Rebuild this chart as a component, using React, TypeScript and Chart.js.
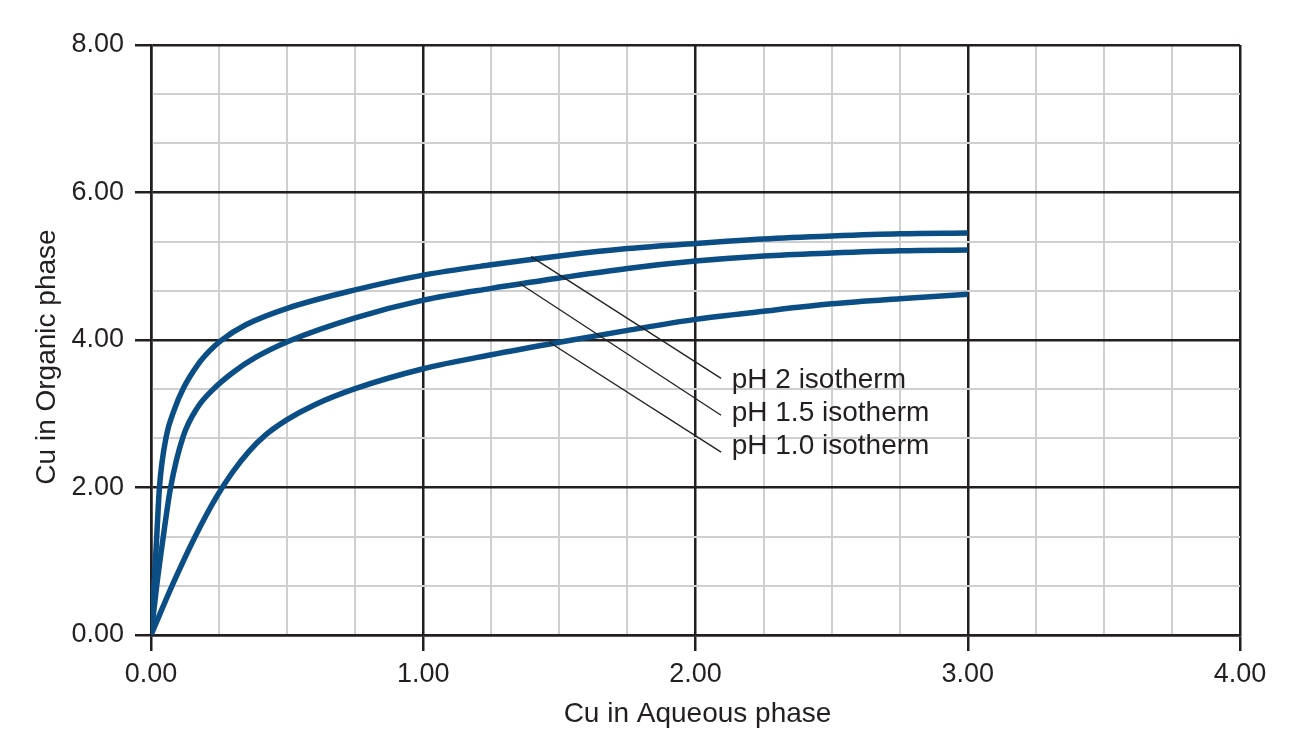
import { useEffect, useRef } from 'react';
import { Chart, registerables } from 'chart.js';

Chart.register(...registerables);

// ---- Data ----
const xMajorTicks = [0, 1, 2, 3, 4];
const yMajorTicks = [0, 2, 4, 6, 8];
const xMinorPerMajor = 4; // 0.25 steps
const yMinorPerMajor = 3; // 2/3 steps

const seriesNames = ['pH 2 isotherm', 'pH 1.5 isotherm', 'pH 1.0 isotherm'];

const ph2X = [0, 0.011, 0.021, 0.031, 0.056, 0.085, 0.118, 0.173, 0.216, 0.258, 0.35, 0.5, 0.75, 1.0, 1.25, 1.5, 1.75, 2.0, 2.25, 2.5, 2.75, 3.0];
const ph2Y = [0, 0.67, 1.33, 2.0, 2.69, 3.05, 3.34, 3.67, 3.855, 3.995, 4.21, 4.43, 4.68, 4.88, 5.02, 5.14, 5.24, 5.31, 5.37, 5.41, 5.44, 5.45];

const ph15X = [0, 0.021, 0.045, 0.072, 0.118, 0.17, 0.228, 0.301, 0.387, 0.51, 0.75, 1.0, 1.25, 1.5, 1.75, 2.0, 2.25, 2.5, 2.75, 3.0];
const ph15Y = [0, 0.67, 1.33, 2.0, 2.69, 3.08, 3.33, 3.56, 3.77, 3.99, 4.3, 4.54, 4.7, 4.84, 4.97, 5.07, 5.14, 5.18, 5.21, 5.22];

const ph10X = [0, 0.08, 0.16, 0.24, 0.3, 0.36, 0.42, 0.5, 0.6, 0.75, 1.0, 1.25, 1.5, 1.75, 2.0, 2.25, 2.5, 2.75, 3.0];
const ph10Y = [0, 0.69, 1.32, 1.87, 2.21, 2.49, 2.71, 2.92, 3.12, 3.34, 3.61, 3.8, 3.97, 4.13, 4.28, 4.39, 4.49, 4.56, 4.62];

// Leader lines: start on curve -> end near label (data coordinates)
const leaderStartX = [1.396, 1.353, 1.463];
const leaderStartY = [5.13, 4.77, 3.97];
const leaderEndX = [2.094, 2.094, 2.094];
const leaderEndY = [3.48, 2.98, 2.48];
const labelX = 2.133;
const labelY = [3.46, 3.01, 2.56];

const xTitle = 'Cu in Aqueous phase';
const yTitle = 'Cu in Organic phase';

const FONT = '"Liberation Sans", Arial, Helvetica, sans-serif';
const DARK = '#231f20';
const LIGHT = '#cfcfcf';
const CURVE = '#0b4e86';

function zip(xs: number[], ys: number[]) {
  return xs.map((x, i) => ({ x, y: ys[i] }));
}

function buildTicks(majors: number[], per: number) {
  const out: { value: number }[] = [];
  for (let i = 0; i < majors.length - 1; i++) {
    const a = majors[i];
    const b = majors[i + 1];
    for (let k = 0; k < per; k++) out.push({ value: a + ((b - a) * k) / per });
  }
  out.push({ value: majors[majors.length - 1] });
  return out;
}

const labelPlugin = {
  id: 'isothermLabels',
  afterDatasetsDraw(chart: any) {
    const { ctx, scales, chartArea } = chart;
    const xs = scales.x;
    const ys = scales.y;
    ctx.save();
    ctx.fillStyle = DARK;
    ctx.font = `28px ${FONT}`;
    ctx.textAlign = 'left';
    ctx.textBaseline = 'middle';
    seriesNames.forEach((name, i) => {
      ctx.fillText(name, xs.getPixelForValue(labelX), ys.getPixelForValue(labelY[i]));
    });
    // axis titles
    ctx.textAlign = 'center';
    ctx.textBaseline = 'alphabetic';
    ctx.fillText(xTitle, (chartArea.left + chartArea.right) / 2 + 2, chart.height - 20);
    ctx.save();
    ctx.translate(55, (chartArea.top + chartArea.bottom) / 2 + 17);
    ctx.rotate(-Math.PI / 2);
    ctx.fillText(yTitle, 0, 0);
    ctx.restore();
    ctx.restore();
  },
};

export default function App() {
  const canvasRef = useRef<HTMLCanvasElement | null>(null);

  useEffect(() => {
    document.body.style.margin = '0';
    const canvas = canvasRef.current;
    if (!canvas) return;

    const curves = [
      zip(ph2X, ph2Y),
      zip(ph15X, ph15Y),
      zip(ph10X, ph10Y),
    ].map((data, i) => ({
      label: seriesNames[i],
      data,
      borderColor: CURVE,
      borderWidth: 5.5,
      pointRadius: 0,
      cubicInterpolationMode: 'monotone' as const,
      fill: false,
      order: 2,
    }));

    const leaders = seriesNames.map((name, i) => ({
      label: name + ' leader',
      data: [
        { x: leaderStartX[i], y: leaderStartY[i] },
        { x: leaderEndX[i], y: leaderEndY[i] },
      ],
      borderColor: DARK,
      borderWidth: 1.3,
      pointRadius: 0,
      tension: 0,
      fill: false,
      order: 1,
    }));

    const isMajor = (idx: number, per: number) => idx % per === 0;

    const chart = new Chart(canvas, {
      type: 'line',
      data: { datasets: [...curves, ...leaders] as any },
      plugins: [labelPlugin],
      options: {
        animation: false,
        responsive: true,
        maintainAspectRatio: false,
        layout: { padding: { left: 0, right: 53, top: 45, bottom: 0 } },
        plugins: { legend: { display: false }, tooltip: { enabled: false } },
        scales: {
          x: {
            type: 'linear',
            min: xMajorTicks[0],
            max: xMajorTicks[xMajorTicks.length - 1],
            afterBuildTicks: (axis: any) => {
              axis.ticks = buildTicks(xMajorTicks, xMinorPerMajor);
            },
            afterFit: (scale: any) => {
              scale.height = 107;
            },
            grid: {
              color: (c: any) => (isMajor(c.index, xMinorPerMajor) ? DARK : LIGHT),
              lineWidth: (c: any) => (isMajor(c.index, xMinorPerMajor) ? 2.5 : 2),
              tickColor: (c: any) => (isMajor(c.index, xMinorPerMajor) ? DARK : 'rgba(0,0,0,0)'),
              tickLength: 16,
              tickWidth: 2.5,
            },
            border: { display: true, color: DARK, width: 2.5 },
            ticks: {
              autoSkip: false,
              maxRotation: 0,
              padding: 7,
              color: DARK,
              font: { family: FONT, size: 27 },
              callback: (v: any, i: number) => (isMajor(i, xMinorPerMajor) ? Number(v).toFixed(2) : ''),
            },
          },
          y: {
            type: 'linear',
            min: yMajorTicks[0],
            max: yMajorTicks[yMajorTicks.length - 1],
            afterBuildTicks: (axis: any) => {
              axis.ticks = buildTicks(yMajorTicks, yMinorPerMajor);
            },
            afterFit: (scale: any) => {
              scale.width = 151;
            },
            grid: {
              color: (c: any) => (isMajor(c.index, yMinorPerMajor) ? DARK : LIGHT),
              lineWidth: (c: any) => (isMajor(c.index, yMinorPerMajor) ? 2.5 : 2),
              tickColor: (c: any) => (isMajor(c.index, yMinorPerMajor) ? DARK : 'rgba(0,0,0,0)'),
              tickLength: 16,
              tickWidth: 2.5,
            },
            border: { display: true, color: DARK, width: 2.5 },
            ticks: {
              autoSkip: false,
              padding: 11,
              color: DARK,
              font: { family: FONT, size: 27 },
              callback: (v: any, i: number) => (isMajor(i, yMinorPerMajor) ? Number(v).toFixed(2) : ''),
            },
          },
        },
      },
    });

    return () => chart.destroy();
  }, []);

  return (
    <div style={{ position: 'fixed', left: 0, top: 0, width: 1293, height: 742, background: '#fff' }}>
      <canvas ref={canvasRef} />
    </div>
  );
}
